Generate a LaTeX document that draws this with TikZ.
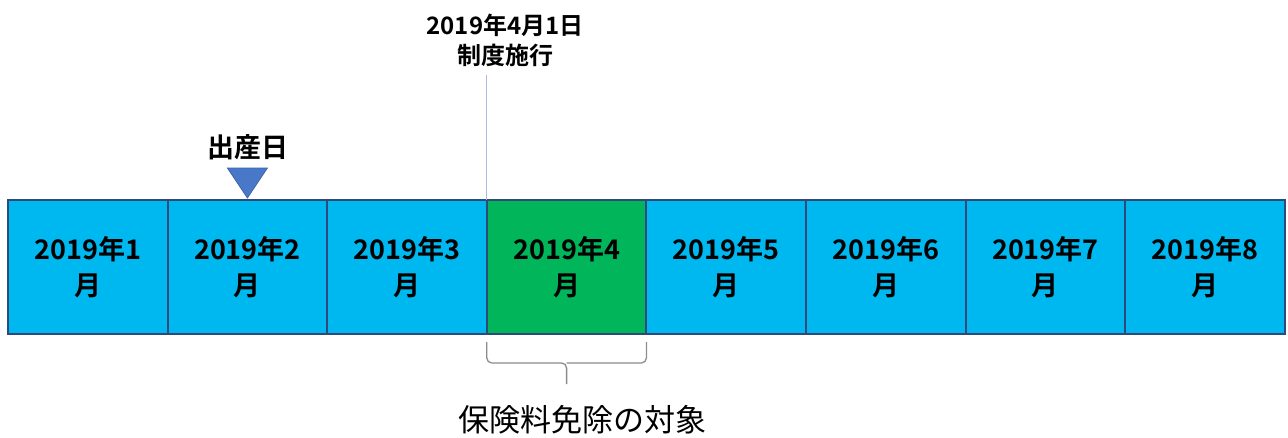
\documentclass[tikz,border=0pt]{standalone}
\usepackage{fontspec}
\newfontfamily\jp{Noto Sans CJK JP}[BoldFont={Noto Sans CJK JP Bold}]
\definecolor{cyanbox}{HTML}{00B8F0}
\definecolor{greenbox}{HTML}{00B55A}
\definecolor{boxline}{HTML}{2E4A7A}
\definecolor{markline}{HTML}{A8BCE0}
\definecolor{tri}{HTML}{4A78C8}
\definecolor{tridraw}{HTML}{3A62A8}
\definecolor{bracec}{HTML}{8C8C8C}
\tikzset{
  month/.style={draw=boxline, line width=2pt, minimum width=159.6pt, minimum height=134pt,
    inner sep=0pt, outer sep=0pt, fill=cyanbox, align=center,
    font=\jp\bfseries\fontsize{27}{36}\selectfont},
  toplabel/.style={align=center, inner sep=0pt, font=\jp\bfseries\fontsize{24}{30}\selectfont},
  birthlabel/.style={inner sep=0pt, font=\jp\bfseries\fontsize{27}{32}\selectfont},
  bottomlabel/.style={inner sep=0pt, font=\jp\fontsize{31}{36}\selectfont},
  marker/.style={draw=markline, line width=1.3pt},
  bracestyle/.style={draw=bracec, line width=1.3pt, rounded corners=5pt},
  triangle/.style={fill=tri, draw=tridraw, line width=0.8pt}
}
\begin{document}
\begin{tikzpicture}[x=1pt,y=-1pt]
\useasboundingbox (0,0) rectangle (1288,437);
\foreach \i in {1,...,8} {
  \pgfmathsetmacro{\cx}{8+159.6*(\i-0.5)}
  \ifnum\i=4
    \node[month, fill=greenbox] (m\i) at (\cx,267) {2019年\i\\月};
  \else
    \node[month] (m\i) at (\cx,267) {2019年\i\\月};
  \fi
}
\node[toplabel] (shiko) at (505,40) {2019年4月1日\\制度施行};
\coordinate (ltop) at (m4.north west |- 0,75);
\draw[marker] (ltop) -- (m4.north west);
\node[birthlabel] (birth) at (248,147) {出産日};
\coordinate (tA) at ([xshift=-20pt,yshift=32pt]m2.north);
\coordinate (tB) at ([xshift=20pt,yshift=32pt]m2.north);
\coordinate (tC) at ([yshift=2pt]m2.north);
\draw[triangle] (tA) -- (tB) -- (tC) -- cycle;
\coordinate (bL) at ([yshift=-8pt]m4.south west);
\coordinate (bR) at ([yshift=-8pt]m4.south east);
\coordinate (bM) at ([yshift=-50pt]m4.south);
\draw[bracestyle] (bL) -- (bL |- 0,363) -- (bM |- 0,363) -- (bM);
\draw[bracestyle] (bR) -- (bR |- 0,363) -- (bM |- 0,363);
\node[bottomlabel] (exempt) at (582,420) {保険料免除の対象};
\end{tikzpicture}
\end{document}
